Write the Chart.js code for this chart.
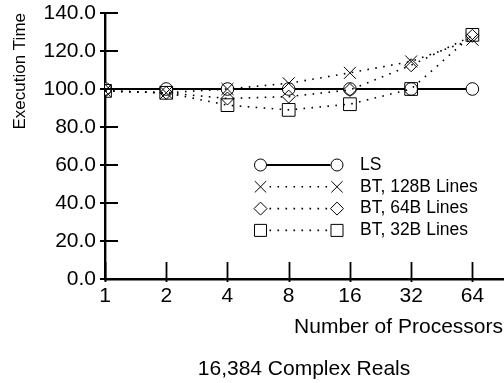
<!DOCTYPE html>
<html>
<head>
<meta charset="utf-8">
<script src="https://cdn.jsdelivr.net/npm/chart.js@4/dist/chart.umd.min.js"></script>
<style>
  html, body { margin: 0; padding: 0; background: #fff; }
  #c { display: block; }
</style>
</head>
<body>
<canvas id="c" width="504" height="383"></canvas>
<script>
// Processor counts along the x axis (plotted at equal spacing)
const processors = [1, 2, 4, 8, 16, 32, 64];

// Normalised execution time per scheme
const lsTimes    = [100, 100, 100, 100, 100, 100, 100];
const bt128Times = [99, 98, 100, 103, 108.5, 114.5, 126];
const bt64Times  = [99, 98, 95, 96, 99.5, 112.5, 128];
const bt32Times  = [99, 98, 91.5, 89, 92, 100, 128.5];

const seriesNames = ['LS', 'BT, 128B Lines', 'BT, 64B Lines', 'BT, 32B Lines'];
const yTicks = [0, 20, 40, 60, 80, 100, 120, 140];

const FONT = '"Liberation Sans", Arial, Helvetica, sans-serif';

const toPoints = vals => vals.map((v, i) => ({ x: i, y: v }));

// markers are cut off at the y axis, free elsewhere
const clipBox = { left: 0, top: 12, right: 12, bottom: 12 };

const dotted = {
  borderColor: '#000',
  borderWidth: 1.6,
  borderDash: [1.6, 6.4],
  pointBorderColor: '#000',
  pointBackgroundColor: 'rgba(0,0,0,0)',
  pointBorderWidth: 1,
  tension: 0,
  clip: clipBox,
  order: 0
};

const datasets = [
  {
    label: seriesNames[0], data: toPoints(lsTimes),
    borderColor: '#000', borderWidth: 2.2,
    pointStyle: 'circle', pointRadius: 6.3,
    pointBorderColor: '#000', pointBackgroundColor: '#fff', pointBorderWidth: 1,
    tension: 0, clip: clipBox, order: 1
  },
  Object.assign({ label: seriesNames[1], data: toPoints(bt128Times), pointStyle: 'crossRot', pointRadius: 8.5 }, dotted),
  Object.assign({ label: seriesNames[2], data: toPoints(bt64Times), pointStyle: 'rectRot', pointRadius: 6.5 }, dotted),
  Object.assign({ label: seriesNames[3], data: toPoints(bt32Times), pointStyle: 'rect', pointRadius: 9 }, dotted)
];

// Draws a marker glyph; uses Chart.js helper when exposed
function marker(ctx, style, r, x, y, fill) {
  ctx.save();
  ctx.strokeStyle = '#000';
  ctx.lineWidth = 1;
  ctx.fillStyle = fill;
  if (Chart.helpers && Chart.helpers.drawPoint) {
    Chart.helpers.drawPoint(ctx, { pointStyle: style, radius: r, rotation: 0, borderWidth: 1 }, x, y);
  } else {
    ctx.beginPath();
    if (style === 'circle') { ctx.arc(x, y, r, 0, Math.PI * 2); ctx.fill(); }
    else if (style === 'rect') { const s = r * Math.SQRT1_2; ctx.rect(x - s, y - s, 2 * s, 2 * s); ctx.fill(); }
    else if (style === 'rectRot') { ctx.moveTo(x - r, y); ctx.lineTo(x, y - r); ctx.lineTo(x + r, y); ctx.lineTo(x, y + r); ctx.closePath(); ctx.fill(); }
    else if (style === 'crossRot') { const s = r * Math.SQRT1_2; ctx.moveTo(x - s, y - s); ctx.lineTo(x + s, y + s); ctx.moveTo(x - s, y + s); ctx.lineTo(x + s, y - s); }
    ctx.stroke();
  }
  ctx.restore();
}

// Inward/outward tick marks on both axes
const axisTicks = {
  id: 'axisTicks',
  afterDatasetsDraw(chart) {
    const { ctx, chartArea, scales } = chart;
    ctx.save();
    ctx.strokeStyle = '#000';
    ctx.lineWidth = 1.8;
    ctx.beginPath();
    scales.y.ticks.forEach(t => {
      const py = Math.round(scales.y.getPixelForValue(t.value));
      ctx.moveTo(chartArea.left - 5, py);
      ctx.lineTo(chartArea.left + 13, py);
    });
    scales.x.ticks.forEach(t => {
      const px = Math.round(scales.x.getPixelForValue(t.value)) + 0.5;
      ctx.moveTo(px, chartArea.bottom - 17);
      ctx.lineTo(px, chartArea.bottom + 3);
    });
    ctx.stroke();
    ctx.restore();
  }
};

// Legend inside the plot: marker, line sample, marker, label
const innerLegend = {
  id: 'innerLegend',
  afterDraw(chart) {
    const ctx = chart.ctx;
    const x0 = 260.5, x1 = 337, tx = 360, y0 = 165, dy = 21.8;
    chart.data.datasets.forEach((ds, i) => {
      const y = y0 + i * dy;
      ctx.save();
      ctx.strokeStyle = '#000';
      ctx.lineWidth = ds.borderWidth;
      ctx.setLineDash(ds.borderDash || []);
      ctx.beginPath();
      const gap = i === 0 ? 6.5 : 9;
      ctx.moveTo(x0 + gap, y);
      ctx.lineTo(x1 - gap, y);
      ctx.stroke();
      ctx.restore();
      const r = ds.pointStyle === 'rect' ? 8.5 : ds.pointStyle === 'crossRot' ? 8 : ds.pointStyle === 'rectRot' ? 6.5 : 6;
      marker(ctx, ds.pointStyle, r, x0, y, 'rgba(0,0,0,0)');
      marker(ctx, ds.pointStyle, r, x1, y, 'rgba(0,0,0,0)');
      ctx.save();
      ctx.fillStyle = '#000';
      ctx.font = '17.5px ' + FONT;
      ctx.textBaseline = 'middle';
      ctx.textAlign = 'left';
      ctx.fillText(ds.label, tx, y);
      ctx.restore();
    });
  }
};

// Caption below the x-axis title, centred on the plot area
const caption = {
  id: 'caption',
  afterDraw(chart) {
    const { ctx, chartArea } = chart;
    ctx.save();
    ctx.fillStyle = '#000';
    ctx.font = '21px ' + FONT;
    ctx.textAlign = 'center';
    ctx.textBaseline = 'middle';
    ctx.fillText('16,384 Complex Reals', (chartArea.left + chartArea.right) / 2, 369);
    ctx.restore();
  }
};

Chart.defaults.color = '#000';
Chart.defaults.font.family = FONT;

new Chart(document.getElementById('c'), {
  type: 'line',
  data: { datasets },
  options: {
    responsive: false,
    animation: false,
    devicePixelRatio: 1,
    layout: { autoPadding: false, padding: { top: 13, left: 0, right: 1, bottom: 28 } },
    plugins: { legend: { display: false }, tooltip: { enabled: false }, title: { display: false } },
    scales: {
      x: {
        type: 'linear',
        min: 0,
        max: 6.5,
        afterBuildTicks: scale => { scale.ticks = processors.map((p, i) => ({ value: i })); },
        afterFit: scale => {
          scale.height = 76;
          scale.paddingLeft = 0; scale.paddingRight = 0;
        },
        ticks: {
          callback: v => String(processors[v]),
          font: { size: 21 },
          padding: 5,
          maxRotation: 0,
          autoSkip: false
        },
        grid: { display: false, drawTicks: false },
        border: { display: true, color: '#000', width: 2.4 },
        title: {
          display: true, text: 'Number of Processors', align: 'end',
          font: { size: 21 }, padding: { top: 0, bottom: 15 }
        }
      },
      y: {
        type: 'linear',
        min: 0,
        max: 140,
        afterBuildTicks: scale => { scale.ticks = yTicks.map(v => ({ value: v })); },
        afterFit: scale => {
          scale.width = 105;
          scale.paddingTop = 0; scale.paddingBottom = 0;
        },
        ticks: {
          callback: v => v.toFixed(1),
          font: { size: 21 },
          padding: 9
        },
        grid: { display: false, drawTicks: false },
        border: { display: true, color: '#000', width: 2.4 },
        title: {
          display: true, text: 'Execution Time', align: 'end',
          font: { size: 17 }, padding: { top: 10, bottom: 0 }
        }
      }
    }
  },
  plugins: [axisTicks, innerLegend, caption]
});
</script>
</body>
</html>
